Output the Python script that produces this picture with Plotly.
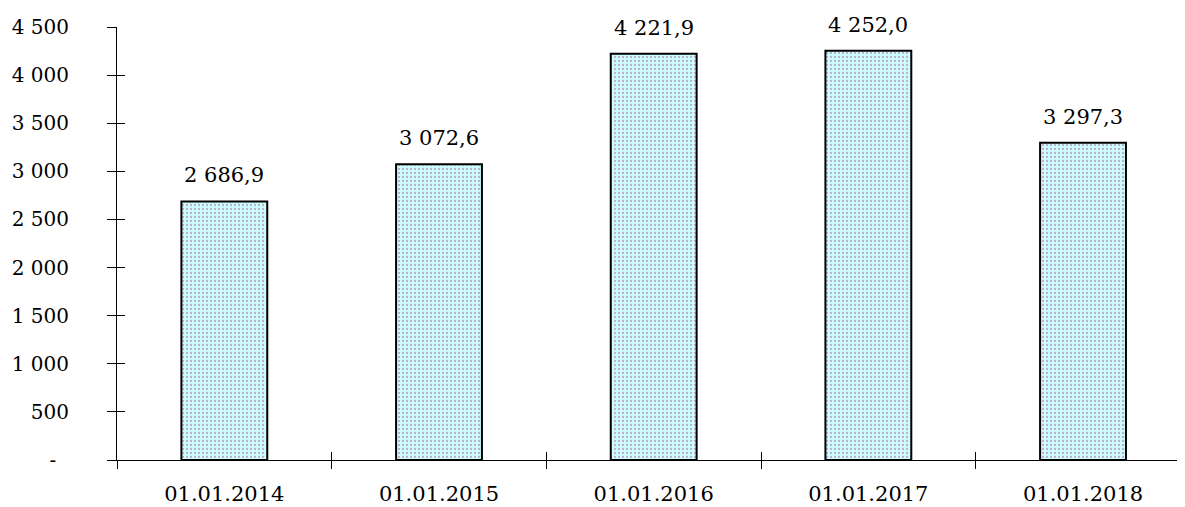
import plotly.graph_objects as go

categories = ["01.01.2014", "01.01.2015", "01.01.2016", "01.01.2017", "01.01.2018"]
values = [2686.9, 3072.6, 4221.9, 4252.0, 3297.3]
y_tickvals = [0, 500, 1000, 1500, 2000, 2500, 3000, 3500, 4000, 4500]
y_ticktext = ["-\u00a0\u00a0", "500", "1 000", "1 500", "2 000", "2 500", "3 000", "3 500", "4 000", "4 500"]


def fmt(v):
    s = f"{v:,.1f}"
    return s.replace(",", " ").replace(".", ",")


labels = [fmt(v) for v in values]
FONT = "DejaVu Serif, Liberation Serif, serif"
FS = 21
FSY = 20
xr = [-0.5, 4.475]
yr = [0, 4500]

fig = go.Figure()
fig.add_trace(go.Bar(
    x=categories, y=values, width=0.4,
    marker=dict(color="#ccffff",
                line=dict(color="black", width=2),
                pattern=dict(shape=".", bgcolor="#ccffff", fgcolor="#b05a90",
                             size=4, solidity=0.25)),
    showlegend=False,
))
# invisible trace for the overlay axes
fig.add_trace(go.Scatter(x=categories, y=values, xaxis="x2", yaxis="y2",
                         mode="markers", marker=dict(opacity=0), showlegend=False,
                         hoverinfo="skip"))

for c, v, t in zip(categories, values, labels):
    fig.add_annotation(x=c, y=v, text=t, showarrow=False, yanchor="bottom",
                       yshift=12, font=dict(family=FONT, size=FS, color="black"))

fig.update_layout(
    width=1185, height=507,
    margin=dict(l=109, r=8, t=19, b=55, autoexpand=False),
    plot_bgcolor="white", paper_bgcolor="white",
    font=dict(family=FONT, size=FS, color="black"),
    xaxis=dict(type="category", range=xr, tickson="boundaries", ticks="outside",
               ticklen=8, tickcolor="black", tickwidth=1, showline=True,
               linecolor="black", linewidth=1, showgrid=False, zeroline=False,
               automargin=False,
               ticklabelstandoff=15, tickfont=dict(family=FONT, size=FS)),
    xaxis2=dict(type="category", range=xr, tickson="boundaries", ticks="inside",
                ticklen=8, tickcolor="black", tickwidth=1, overlaying="x",
                showticklabels=False, showline=False, showgrid=False, zeroline=False),
    yaxis=dict(range=yr, tickmode="array", tickvals=y_tickvals, ticktext=y_ticktext,
               ticks="outside", ticklen=9, tickcolor="black", tickwidth=1,
               showline=True, linecolor="black", linewidth=1, showgrid=False,
               automargin=False,
               zeroline=False, ticklabelstandoff=34, tickfont=dict(family=FONT, size=FSY)),
    yaxis2=dict(range=yr, tickmode="array", tickvals=y_tickvals, ticks="inside",
                ticklen=8, tickcolor="black", tickwidth=1, overlaying="y", side="left",
                showticklabels=False, showline=False, showgrid=False, zeroline=False),
)

fig.write_html("out.html")
